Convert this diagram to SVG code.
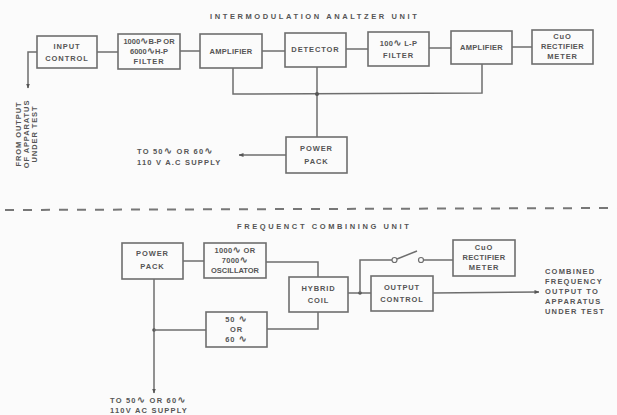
<svg xmlns="http://www.w3.org/2000/svg" width="617" height="415" viewBox="0 0 617 415">
<style>
.bg{fill:#fbfbfb}
.box{fill:none;stroke:#6e6e6e;stroke-width:1.6}
.ln{fill:none;stroke:#6e6e6e;stroke-width:1.5}
.t{font-family:"Liberation Sans","DejaVu Sans",sans-serif;font-weight:bold;font-size:7.5px;fill:#555;letter-spacing:0.9px;text-anchor:middle}
.s{font-family:"Liberation Sans","DejaVu Sans",sans-serif;font-weight:bold;font-size:7.5px;fill:#555;letter-spacing:1.2px}
.title{font-family:"Liberation Sans","DejaVu Sans",sans-serif;font-weight:bold;font-size:7.5px;fill:#555;letter-spacing:2.6px}
.w{font-family:"DejaVu Sans",sans-serif;font-size:10px;font-weight:bold}
.dash{fill:none;stroke:#777;stroke-width:2;stroke-dasharray:9 9}
.dot{fill:#555}
</style>
<defs>
<marker id="ah" viewBox="0 0 10 10" refX="9" refY="5" markerWidth="5" markerHeight="5" orient="auto" markerUnits="userSpaceOnUse">
<path d="M0,1 L10,5 L0,9 Z" fill="#555"/>
</marker>
</defs>
<rect class="bg" x="0" y="0" width="617" height="415"/>

<text class="title" x="210" y="19">INTERMODULATION ANALTZER UNIT</text>
<line class="dash" x1="5" y1="210" x2="617" y2="208"/>
<text class="title" x="237" y="229">FREQUENCT COMBINING UNIT</text>

<g id="connectors">
  <polyline class="ln" points="37,52 28,52 28,88" marker-end="url(#ah)"/>
  <line class="ln" x1="97" y1="52" x2="118" y2="52"/>
  <line class="ln" x1="180" y1="51" x2="200" y2="51"/>
  <line class="ln" x1="262" y1="51" x2="285" y2="51"/>
  <line class="ln" x1="346" y1="49" x2="368" y2="49"/>
  <line class="ln" x1="429" y1="48" x2="451" y2="48"/>
  <line class="ln" x1="512" y1="47" x2="532" y2="47"/>
  <polyline class="ln" points="233,68 233,94 482,93 482,64"/>
  <line class="ln" x1="317" y1="67" x2="317" y2="137"/>
  <circle class="dot" cx="317" cy="94" r="2"/>
  <line class="ln" x1="286" y1="155" x2="239" y2="155" marker-end="url(#ah)"/>

  <line class="ln" x1="183" y1="261" x2="204" y2="261"/>
  <polyline class="ln" points="266,262 318,262 318,277"/>
  <line class="ln" x1="154" y1="279" x2="154" y2="393" marker-end="url(#ah)"/>
  <circle class="dot" cx="154" cy="330" r="1.8"/>
  <line class="ln" x1="154" y1="330" x2="206" y2="330"/>
  <polyline class="ln" points="267,329 318,329 318,312"/>
  <line class="ln" x1="348" y1="293" x2="371" y2="293"/>
  <circle class="dot" cx="360" cy="293" r="1.8"/>
  <polyline class="ln" points="360,293 360,260 392,260"/>
  <circle cx="394.5" cy="260" r="2.5" fill="none" stroke="#6e6e6e" stroke-width="1.2"/>
  <line class="ln" x1="397" y1="259" x2="417" y2="251"/>
  <circle cx="421" cy="260" r="2.5" fill="none" stroke="#6e6e6e" stroke-width="1.2"/>
  <line class="ln" x1="423.5" y1="260" x2="453" y2="260"/>
  <line class="ln" x1="433" y1="293" x2="539" y2="292" marker-end="url(#ah)"/>
</g>

<g id="input-control">
  <rect class="box" x="37" y="36" width="60" height="32"/>
  <text class="t" x="67" y="49">INPUT</text>
  <text class="t" x="67" y="61">CONTROL</text>
</g>
<g id="bp-hp-filter">
  <rect class="box" x="118" y="34" width="62" height="35"/>
  <text class="t" x="149" y="44" style="letter-spacing:0">1000<tspan class="w">∿</tspan>B-P OR</text>
  <text class="t" x="149" y="54" style="letter-spacing:0">6000<tspan class="w">∿</tspan>H-P</text>
  <text class="t" x="149" y="64">FILTER</text>
</g>
<g id="amplifier-1">
  <rect class="box" x="200" y="34" width="62" height="34"/>
  <text class="t" x="231" y="54" style="letter-spacing:0.3px">AMPLIFIER</text>
</g>
<g id="detector">
  <rect class="box" x="285" y="33" width="61" height="34"/>
  <text class="t" x="315.5" y="52">DETECTOR</text>
</g>
<g id="lp-filter">
  <rect class="box" x="368" y="32" width="61" height="34"/>
  <text class="t" x="398.5" y="46" style="letter-spacing:0.3px">100<tspan class="w">∿</tspan> L-P</text>
  <text class="t" x="398.5" y="58">FILTER</text>
</g>
<g id="amplifier-2">
  <rect class="box" x="451" y="31" width="61" height="33"/>
  <text class="t" x="481.5" y="50" style="letter-spacing:0.3px">AMPLIFIER</text>
</g>
<g id="cuo-meter-1">
  <rect class="box" x="532" y="30" width="61" height="34"/>
  <text class="t" x="562.5" y="39">CuO</text>
  <text class="t" x="562.5" y="49" style="letter-spacing:0.4px">RECTIFIER</text>
  <text class="t" x="562.5" y="59">METER</text>
</g>
<g id="power-pack-1">
  <rect class="box" x="286" y="137" width="61" height="36"/>
  <text class="t" x="316.5" y="151">POWER</text>
  <text class="t" x="316.5" y="164">PACK</text>
</g>
<g id="label-from-output">
  <text class="s" transform="translate(21,134) rotate(-90)" text-anchor="middle" style="letter-spacing:0.9px">FROM OUTPUT</text>
  <text class="s" transform="translate(29,134) rotate(-90)" text-anchor="middle" style="letter-spacing:0.9px">OF APPARATUS</text>
  <text class="s" transform="translate(37,134) rotate(-90)" text-anchor="middle" style="letter-spacing:0.9px">UNDER TEST</text>
</g>
<g id="label-supply-1">
  <text class="s" x="137" y="154">TO 50<tspan class="w">∿</tspan> OR 60<tspan class="w">∿</tspan></text>
  <text class="s" x="137" y="165">110 V A.C SUPPLY</text>
</g>

<g id="power-pack-2">
  <rect class="box" x="122" y="243" width="61" height="36"/>
  <text class="t" x="152.5" y="256">POWER</text>
  <text class="t" x="152.5" y="269">PACK</text>
</g>
<g id="oscillator">
  <rect class="box" x="204" y="243" width="62" height="35"/>
  <text class="t" x="235" y="253" style="letter-spacing:0.3px">1000<tspan class="w">∿</tspan> OR</text>
  <text class="t" x="235" y="263" style="letter-spacing:0.3px">7000<tspan class="w">∿</tspan></text>
  <text class="t" x="235" y="273" style="letter-spacing:0">OSCILLATOR</text>
</g>
<g id="low-freq">
  <rect class="box" x="206" y="312" width="61" height="35"/>
  <text class="t" x="236.5" y="322">50 <tspan class="w">∿</tspan></text>
  <text class="t" x="236.5" y="332">OR</text>
  <text class="t" x="236.5" y="342">60 <tspan class="w">∿</tspan></text>
</g>
<g id="hybrid-coil">
  <rect class="box" x="289" y="277" width="59" height="35"/>
  <text class="t" x="318.5" y="291">HYBRID</text>
  <text class="t" x="318.5" y="303">COIL</text>
</g>
<g id="output-control">
  <rect class="box" x="371" y="276" width="62" height="35"/>
  <text class="t" x="402" y="290">OUTPUT</text>
  <text class="t" x="402" y="302">CONTROL</text>
</g>
<g id="cuo-meter-2">
  <rect class="box" x="453" y="240" width="62" height="36"/>
  <text class="t" x="484" y="250">CuO</text>
  <text class="t" x="484" y="260" style="letter-spacing:0.4px">RECTIFIER</text>
  <text class="t" x="484" y="270">METER</text>
</g>
<g id="label-combined">
  <text class="s" x="545" y="274">COMBINED</text>
  <text class="s" x="545" y="284">FREQUENCY</text>
  <text class="s" x="545" y="294">OUTPUT TO</text>
  <text class="s" x="545" y="304">APPARATUS</text>
  <text class="s" x="545" y="314">UNDER TEST</text>
</g>
<g id="label-supply-2">
  <text class="s" x="110" y="403">TO 50<tspan class="w">∿</tspan> OR 60<tspan class="w">∿</tspan></text>
  <text class="s" x="110" y="413">110V AC SUPPLY</text>
</g>
</svg>
